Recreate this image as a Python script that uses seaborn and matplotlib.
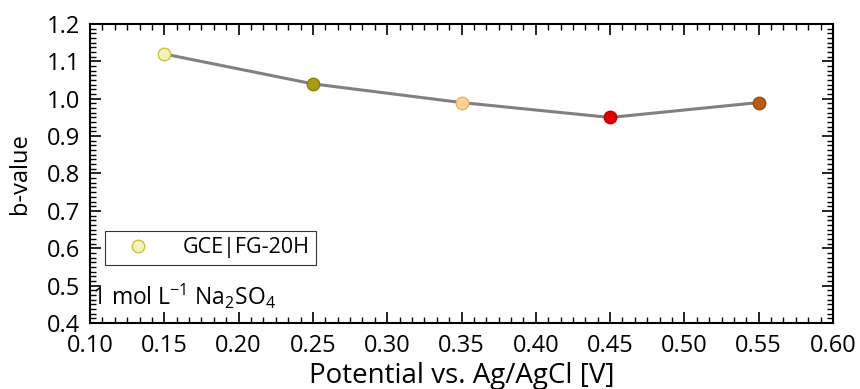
import matplotlib
matplotlib.use("Agg")
import matplotlib.pyplot as plt
import seaborn as sns
import pandas as pd
from matplotlib.ticker import AutoMinorLocator, MultipleLocator
from matplotlib.lines import Line2D

potential = [0.15, 0.25, 0.35, 0.45, 0.55]
b_value = [1.12, 1.04, 0.99, 0.95, 0.99]
face_colors = ["#f7f2b8", "#a59c12", "#ffd199", "#dd0000", "#b75a12"]
edge_colors = ["#c9bf4a", "#8a8210", "#f0b060", "#c00000", "#9a4a0a"]
series_label = "GCE|FG-20H"
electrolyte = r"1 mol L$^{-1}$ Na$_2$SO$_4$"

sns.set_theme(style="ticks")
FONT = "Open Sans"
plt.rcParams["font.family"] = [FONT, "DejaVu Sans"]
plt.rcParams["mathtext.fontset"] = "custom"
plt.rcParams["mathtext.rm"] = FONT
plt.rcParams["mathtext.it"] = FONT + ":italic"
plt.rcParams["text.color"] = "black"
plt.rcParams["axes.labelcolor"] = "black"
plt.rcParams["xtick.color"] = "black"
plt.rcParams["ytick.color"] = "black"

df = pd.DataFrame({"potential": potential, "b": b_value})

fig, ax = plt.subplots(figsize=(8.6, 3.89), dpi=100)
fig.subplots_adjust(left=0.1047, right=0.9686, top=0.938, bottom=0.170)

sns.lineplot(data=df, x="potential", y="b", ax=ax, color="#808080", linewidth=2.2, zorder=2)
for x, y, fc, ec in zip(potential, b_value, face_colors, edge_colors):
    ax.plot([x], [y], marker="o", markersize=9, markerfacecolor=fc, markeredgecolor=ec,
            markeredgewidth=1.0, linestyle="none", zorder=3)

ax.set_xlim(0.10, 0.60)
ax.set_ylim(0.4, 1.2)
ax.xaxis.set_major_locator(MultipleLocator(0.05))
ax.yaxis.set_major_locator(MultipleLocator(0.1))
ax.xaxis.set_minor_locator(AutoMinorLocator(6))
ax.yaxis.set_minor_locator(AutoMinorLocator(8))
ax.xaxis.set_major_formatter(plt.FuncFormatter(lambda v, p: f"{v:.2f}"))
ax.yaxis.set_major_formatter(plt.FuncFormatter(lambda v, p: f"{v:.1f}"))
ax.tick_params(which="both", direction="in", top=True, right=True, colors="black",
               labelcolor="black", labelsize=17)
ax.tick_params(which="major", length=8, width=1.2)
ax.tick_params(which="minor", length=4, width=1.0)
ax.tick_params(axis="x", pad=8)
ax.tick_params(axis="y", pad=7)
for s in ax.spines.values():
    s.set_linewidth(1.5)
    s.set_color("black")

ax.set_xlabel("Potential vs. Ag/AgCl [V]", fontsize=20, color="black")
ax.set_ylabel("b-value", fontsize=17, color="black")
ax.xaxis.set_label_coords(0.5, -0.13)
ax.yaxis.set_label_coords(-0.078, 0.5)

handle = Line2D([], [], marker="o", markersize=9, markerfacecolor=face_colors[0],
                markeredgecolor=edge_colors[0], linestyle="none")
leg = ax.legend([handle], [series_label], loc="lower left", bbox_to_anchor=(0.02, 0.194),
                fontsize=15.5, frameon=True, fancybox=False, edgecolor="black",
                borderpad=0.3, handlelength=2.45, handletextpad=0.85, borderaxespad=0,
                labelcolor="black")
leg.get_frame().set_linewidth(0.8)

ax.text(0.002, 0.09, electrolyte, transform=ax.transAxes, fontsize=16.5, ha="left",
        va="center", color="black")

fig.savefig("out.png", dpi=100)
